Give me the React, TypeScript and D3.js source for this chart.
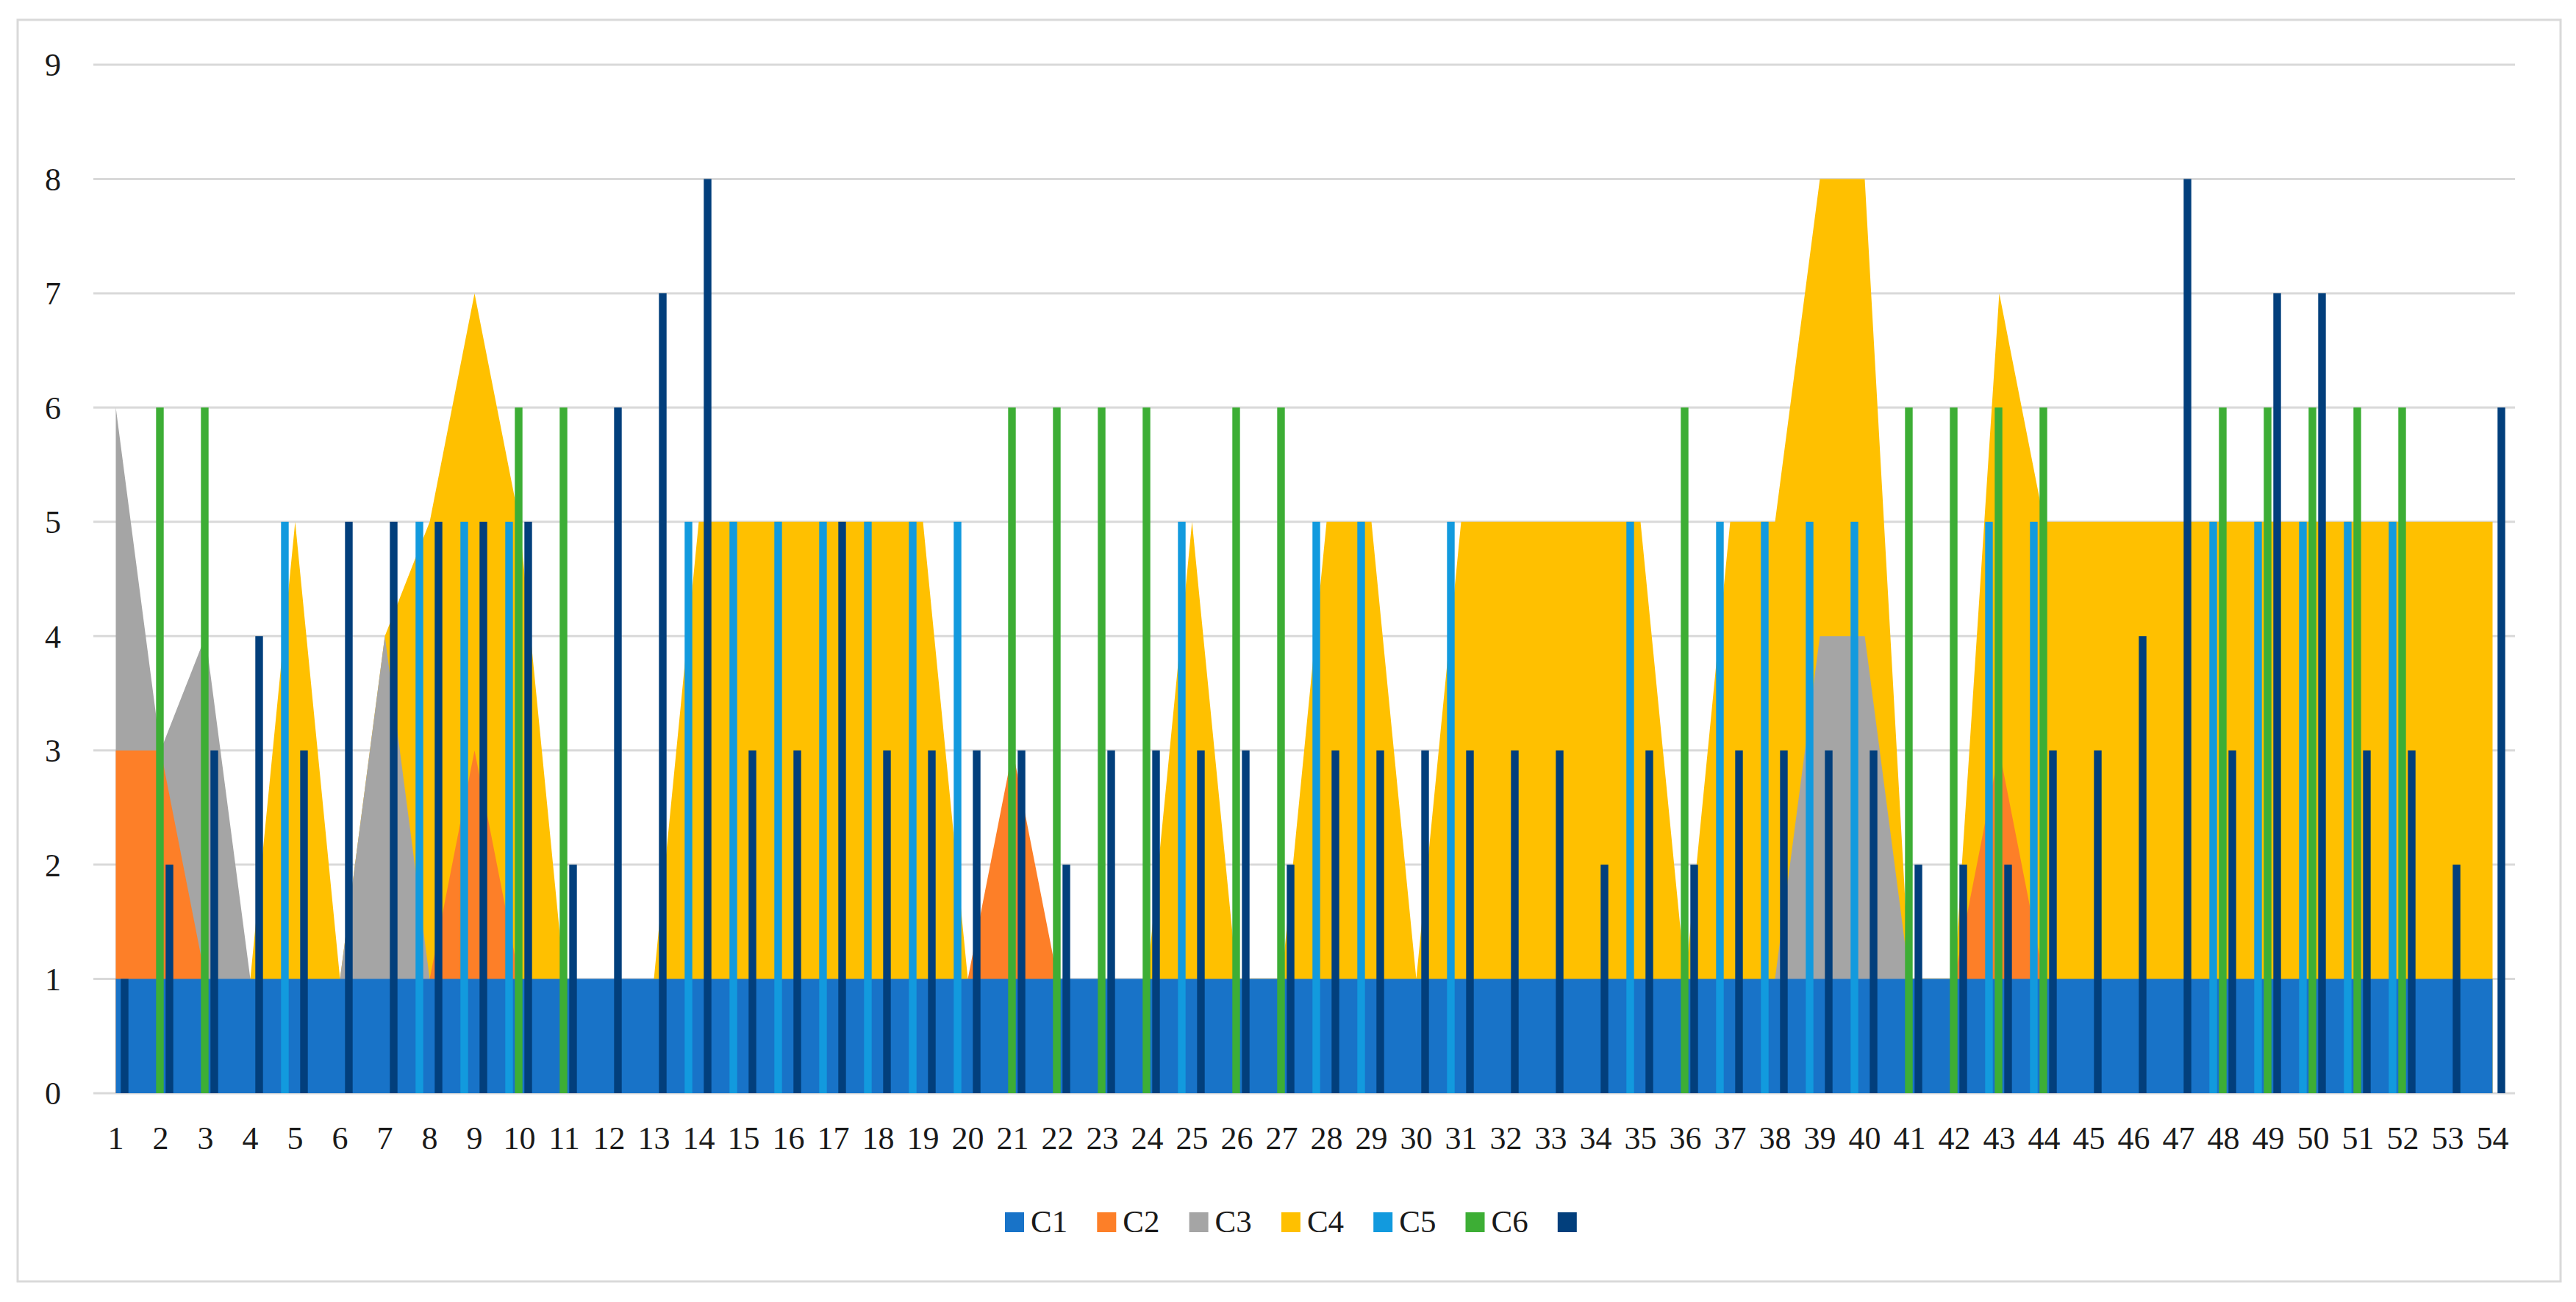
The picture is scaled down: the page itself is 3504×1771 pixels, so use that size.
import { useEffect, useRef } from 'react';
import * as d3 from 'd3';

// category labels on the x axis
const categories = [
  1, 2, 3, 4, 5, 6, 7, 8, 9, 10,
  11, 12, 13, 14, 15, 16, 17, 18, 19, 20,
  21, 22, 23, 24, 25, 26, 27, 28, 29, 30,
  31, 32, 33, 34, 35, 36, 37, 38, 39, 40,
  41, 42, 43, 44, 45, 46, 47, 48, 49, 50,
  51, 52, 53, 54,
];

// area series (drawn overlapping, C4 at the back)
const c1 = [
  1, 1, 1, 1, 1, 1, 1, 1, 1, 1,
  1, 1, 1, 1, 1, 1, 1, 1, 1, 1,
  1, 1, 1, 1, 1, 1, 1, 1, 1, 1,
  1, 1, 1, 1, 1, 1, 1, 1, 1, 1,
  1, 1, 1, 1, 1, 1, 1, 1, 1, 1,
  1, 1, 1, 1,
];
const c2 = [
  3, 3, 1, 0, 0, 0, 0, 1, 3, 1,
  0, 0, 0, 0, 0, 0, 0, 0, 0, 1,
  3, 1, 0, 0, 0, 0, 0, 0, 0, 0,
  0, 0, 0, 0, 0, 0, 0, 0, 0, 0,
  0, 1, 3, 1, 0, 0, 0, 0, 0, 0,
  0, 0, 0, 0,
];
const c3 = [
  6, 3, 4, 1, 0, 1, 4, 1, 0, 0,
  0, 0, 0, 0, 0, 0, 0, 0, 0, 0,
  0, 0, 0, 0, 0, 0, 0, 0, 0, 0,
  0, 0, 0, 0, 0, 0, 0, 1, 4, 4,
  1, 0, 0, 0, 0, 0, 0, 0, 0, 0,
  0, 0, 0, 0,
];
const c4 = [
  0, 0, 0, 1, 5, 1, 4, 5, 7, 5,
  1, 0, 1, 5, 5, 5, 5, 5, 5, 1,
  0, 0, 0, 1, 5, 1, 1, 5, 5, 1,
  5, 5, 5, 5, 5, 1, 5, 5, 8, 8,
  1, 1, 7, 5, 5, 5, 5, 5, 5, 5,
  5, 5, 5, 5,
];

// column series
const c5 = [
  0, 0, 0, 0, 5, 0, 0, 5, 5, 5,
  0, 0, 0, 5, 5, 5, 5, 5, 5, 5,
  0, 0, 0, 0, 5, 0, 0, 5, 5, 0,
  5, 0, 0, 0, 5, 0, 5, 5, 5, 5,
  0, 0, 5, 5, 0, 0, 0, 5, 5, 5,
  5, 5, 0, 0,
];
const c6 = [
  0, 6, 6, 0, 0, 0, 0, 0, 0, 6,
  6, 0, 0, 0, 0, 0, 0, 0, 0, 0,
  6, 6, 6, 6, 0, 6, 6, 0, 0, 0,
  0, 0, 0, 0, 0, 6, 0, 0, 0, 0,
  6, 6, 6, 6, 0, 0, 0, 6, 6, 6,
  6, 6, 0, 0,
];
const c7 = [
  1, 2, 3, 4, 3, 5, 5, 5, 5, 5,
  2, 6, 7, 8, 3, 3, 5, 3, 3, 3,
  3, 2, 3, 3, 3, 3, 2, 3, 3, 3,
  3, 3, 3, 2, 3, 2, 3, 3, 3, 3,
  2, 2, 2, 3, 3, 4, 8, 3, 7, 7,
  3, 3, 2, 6,
];

const yTicks = [0, 1, 2, 3, 4, 5, 6, 7, 8, 9];
const legendNames = ['C1', 'C2', 'C3', 'C4', 'C5', 'C6', ''];

const colors = ['#1873c8', '#fd7f28', '#a5a5a5', '#ffc000', '#129ade', '#3dae35', '#023f7c'];

export default function App() {
  const svgRef = useRef<SVGSVGElement | null>(null);

  useEffect(() => {
    const width = 3504;
    const height = 1771;
    const margin = { top: 88, right: 83, bottom: 284, left: 127 };
    const font = "'Palatino Linotype', 'Book Antiqua', Palatino, 'Liberation Serif', serif";

    const svg = d3.select(svgRef.current);
    svg.selectAll('*').remove();
    svg.attr('width', width).attr('height', height);

    svg.append('rect')
      .attr('width', width).attr('height', height)
      .attr('fill', '#ffffff');

    // chart frame
    svg.append('rect')
      .attr('x', 24).attr('y', 27)
      .attr('width', 3459).attr('height', 1716)
      .attr('fill', 'none')
      .attr('stroke', '#d9d9d9')
      .attr('stroke-width', 3);

    const xScale = d3.scaleBand<string>()
      .domain(categories.map(String))
      .range([margin.left, width - margin.right])
      .padding(0);
    const bw = xScale.bandwidth();
    const cx = (i: number) => xScale(String(categories[i]))! + bw / 2;

    const yScale = d3.scaleLinear()
      .domain([0, 9])
      .range([height - margin.bottom, margin.top]);

    // gridlines
    svg.append('g')
      .selectAll('line')
      .data(yTicks)
      .enter()
      .append('line')
      .attr('x1', margin.left)
      .attr('x2', width - margin.right)
      .attr('y1', d => yScale(d))
      .attr('y2', d => yScale(d))
      .attr('stroke', '#d9d9d9')
      .attr('stroke-width', 3);

    // areas, back to front
    const area = d3.area<number>()
      .x((_, i) => cx(i))
      .y0(yScale(0))
      .y1(d => yScale(d));

    const areaSeries = [
      { vals: c4, color: colors[3] },
      { vals: c3, color: colors[2] },
      { vals: c2, color: colors[1] },
      { vals: c1, color: colors[0] },
    ];
    svg.append('g')
      .selectAll('path')
      .data(areaSeries)
      .enter()
      .append('path')
      .attr('d', d => area(d.vals))
      .attr('fill', d => d.color);

    // clustered columns
    const inner = d3.scaleBand<string>()
      .domain(['c5', 'c6', 'c7'])
      .range([-bw * 0.315, bw * 0.282])
      .paddingInner(0.2);

    const barSeries = [
      { key: 'c5', vals: c5, color: colors[4] },
      { key: 'c6', vals: c6, color: colors[5] },
      { key: 'c7', vals: c7, color: colors[6] },
    ];
    barSeries.forEach(s => {
      const g = svg.append('g');
      s.vals.forEach((v, i) => {
        if (v <= 0) return;
        g.append('rect')
          .attr('x', cx(i) + inner(s.key)!)
          .attr('y', yScale(v))
          .attr('width', inner.bandwidth())
          .attr('height', yScale(0) - yScale(v))
          .attr('fill', s.color);
      });
    });

    // y axis labels
    svg.append('g')
      .selectAll('text')
      .data(yTicks)
      .enter()
      .append('text')
      .attr('x', 72)
      .attr('y', d => yScale(d))
      .attr('dy', '0.35em')
      .attr('text-anchor', 'middle')
      .attr('font-family', font)
      .attr('font-size', 44)
      .attr('fill', '#1a1a1a')
      .text(d => d);

    // x axis labels
    svg.append('g')
      .selectAll('text')
      .data(categories)
      .enter()
      .append('text')
      .attr('x', (_, i) => cx(i))
      .attr('y', 1548)
      .attr('dy', '0.35em')
      .attr('text-anchor', 'middle')
      .attr('font-family', font)
      .attr('font-size', 44)
      .attr('fill', '#1a1a1a')
      .text(d => d);

    // legend
    const legendStep = 125.3;
    const legend = svg.append('g').attr('transform', 'translate(1367,1649)');
    const items = legend.selectAll('g')
      .data(legendNames)
      .enter()
      .append('g')
      .attr('transform', (_, i) => `translate(${i * legendStep},0)`);
    items.append('rect')
      .attr('width', 26)
      .attr('height', 27)
      .attr('fill', (_, i) => colors[i]);
    items.append('text')
      .attr('x', 35)
      .attr('y', 27)
      .attr('font-family', font)
      .attr('font-size', 43)
      .attr('fill', '#1a1a1a')
      .text(d => d);
  }, []);

  return (
    <svg
      ref={svgRef}
      style={{ position: 'absolute', left: 0, top: 0, display: 'block' }}
    />
  );
}
